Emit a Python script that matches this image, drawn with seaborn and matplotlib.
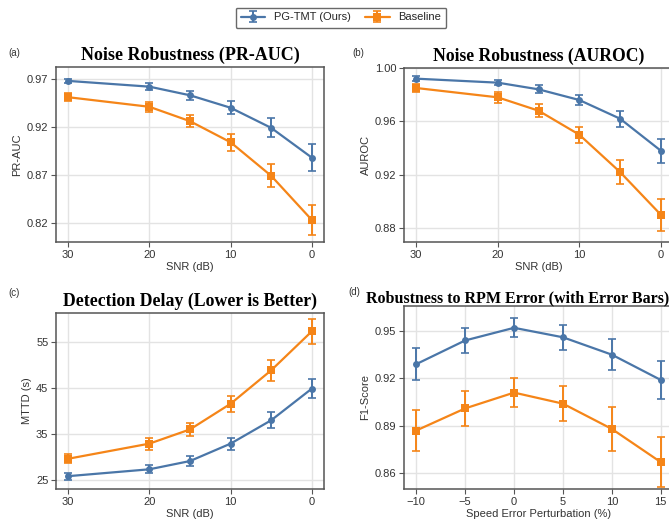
import numpy as np
import pandas as pd
import matplotlib
matplotlib.use("Agg")
import matplotlib.pyplot as plt
from matplotlib.legend_handler import HandlerTuple
import seaborn as sns

# ---- data -------------------------------------------------------------
snr = [30, 20, 15, 10, 5, 0]
speed_err = [-10, -5, 0, 5, 10, 15]

prauc_ours = [0.968, 0.962, 0.953, 0.940, 0.919, 0.888]
prauc_ours_err = [0.0024, 0.0034, 0.0045, 0.007, 0.010, 0.014]
prauc_base = [0.951, 0.941, 0.926, 0.904, 0.869, 0.823]
prauc_base_err = [0.004, 0.005, 0.006, 0.009, 0.012, 0.016]

auroc_ours = [0.992, 0.989, 0.984, 0.976, 0.962, 0.938]
auroc_ours_err = [0.002, 0.002, 0.003, 0.004, 0.006, 0.009]
auroc_base = [0.985, 0.978, 0.968, 0.950, 0.922, 0.890]
auroc_base_err = [0.003, 0.004, 0.005, 0.006, 0.009, 0.012]

mttd_ours = [25.8, 27.3, 29.1, 32.9, 38.0, 44.9]
mttd_ours_err = [0.8, 0.9, 1.1, 1.3, 1.7, 2.1]
mttd_base = [29.6, 32.9, 36.0, 41.6, 48.9, 57.4]
mttd_base_err = [1.0, 1.3, 1.5, 1.8, 2.3, 2.7]

f1_ours = [0.929, 0.944, 0.952, 0.946, 0.935, 0.919]
f1_ours_err = [0.010, 0.008, 0.006, 0.008, 0.010, 0.012]
f1_base = [0.887, 0.901, 0.911, 0.904, 0.888, 0.867]
f1_base_err = [0.013, 0.011, 0.009, 0.011, 0.014, 0.016]

methods = ["PG-TMT (Ours)", "Baseline"]

# ---- style ------------------------------------------------------------
sns.set_theme(style="whitegrid")
plt.rcParams["font.family"] = ["Liberation Sans", "DejaVu Sans"]
plt.rcParams.update({
    "axes.edgecolor": "#555555",
    "axes.linewidth": 1.1,
    "grid.color": "#e3e3e3",
    "grid.linewidth": 1.0,
    "xtick.bottom": True,
    "ytick.left": True,
    "xtick.major.size": 3.5,
    "ytick.major.size": 3.5,
    "xtick.major.width": 0.8,
    "ytick.major.width": 0.8,
    "xtick.color": "#555555",
    "ytick.color": "#555555",
    "xtick.labelcolor": "#333333",
    "ytick.labelcolor": "#333333",
})

palette = {"PG-TMT (Ours)": "#4A76A8", "Baseline": "#F58518"}
markers = {"PG-TMT (Ours)": "o", "Baseline": "s"}

W, H = 669, 519
fig = plt.figure(figsize=(W / 100, H / 100), dpi=100)


def px_axes(left, top, right, bottom):
    return fig.add_axes([left / W, 1 - bottom / H, (right - left) / W, (bottom - top) / H])


ax_a = px_axes(56, 67, 324, 242)
ax_b = px_axes(404, 68, 673, 242)
ax_c = px_axes(56, 313, 324, 489)
ax_d = px_axes(404, 306, 673, 489)

panels = [
    (ax_a, snr, prauc_ours, prauc_ours_err, prauc_base, prauc_base_err,
     "Noise Robustness (PR-AUC)", "SNR (dB)", "PR-AUC",
     (0.800, 0.9825), [0.82, 0.87, 0.92, 0.97], "{:.2f}", 13),
    (ax_b, snr, auroc_ours, auroc_ours_err, auroc_base, auroc_base_err,
     "Noise Robustness (AUROC)", "SNR (dB)", "AUROC",
     (0.8695, 1.0), [0.88, 0.92, 0.96, 1.00], "{:.2f}", 12.7),
    (ax_c, snr, mttd_ours, mttd_ours_err, mttd_base, mttd_base_err,
     "Detection Delay (Lower is Better)", "SNR (dB)", "MTTD (s)",
     (23.0, 61.4), [25, 35, 45, 55], "{:.0f}", 12.8),
    (ax_d, speed_err, f1_ours, f1_ours_err, f1_base, f1_base_err,
     "Robustness to RPM Error (with Error Bars)", "Speed Error Perturbation (%)",
     "F1-Score", (0.850, 0.9658), [0.86, 0.89, 0.92, 0.95], "{:.2f}", 11.5),
]

handles = {}
for (ax, x, yo, eo, yb, eb, title, xlabel, ylabel, ylim, yticks, fmt, tsize) in panels:
    df = pd.DataFrame({
        "x": list(x) * 2,
        "y": list(yo) + list(yb),
        "err": list(eo) + list(eb),
        "method": [methods[0]] * len(x) + [methods[1]] * len(x),
    })
    for m in methods:
        sub = df[df["method"] == m]
        sns.lineplot(data=sub, x="x", y="y", ax=ax, color=palette[m],
                     marker=markers[m], markersize=5.5 if m == methods[1] else 5,
                     markeredgewidth=0, linewidth=1.6, legend=False, zorder=3)
        data_line = ax.lines[-1]
        cont = ax.errorbar(sub["x"], sub["y"], yerr=sub["err"], fmt="none",
                           ecolor=palette[m], elinewidth=1.4, capsize=2.6,
                           capthick=1.2, zorder=2)
        if m not in handles:
            handles[m] = (data_line, cont)
    ax.set_ylim(*ylim)
    ax.set_yticks(yticks)
    ax.set_yticklabels([fmt.format(v) for v in yticks])
    ax.set_xlabel(xlabel, fontsize=8, color="#333333", labelpad=1.5)
    ax.set_ylabel(ylabel, fontsize=8, color="#333333", labelpad=3)
    ax.tick_params(labelsize=8, pad=2)
    ax.set_title(title, family=["Liberation Serif", "DejaVu Serif"],
                 fontweight="bold", fontsize=tsize, color="black",
                 pad=2 if ax is ax_d else 5)

for ax in (ax_a, ax_b, ax_c):
    ax.set_xticks([30, 20, 10, 0])
    ax.set_xlim(31.5, -1.5)
ax_d.set_xticks([-10, -5, 0, 5, 10, 15])
ax_d.set_xlim(-11.25, 16.25)
ax_d.title.set_x(0.424)

for tag, (xp, yp) in {"(a)": (8, 53), "(b)": (352, 53), "(c)": (8, 293), "(d)": (348, 292)}.items():
    fig.text(xp / W, 1 - yp / H, tag, fontsize=7, color="#333333", va="center", ha="left")

leg = fig.legend([handles[m] for m in methods], methods, loc="center",
                 bbox_to_anchor=(341 / W, 1 - 17.5 / H), ncol=2, fontsize=8,
                 frameon=True, handler_map={tuple: HandlerTuple(ndivide=1)},
                 handlelength=2.2, columnspacing=1.3, borderpad=0.45,
                 handletextpad=0.8)
leg.get_frame().set_edgecolor("#444444")
leg.get_frame().set_linewidth(1.0)
leg.get_frame().set_boxstyle("round", pad=0.0, rounding_size=0.15)

fig.savefig("out.png", dpi=100)
